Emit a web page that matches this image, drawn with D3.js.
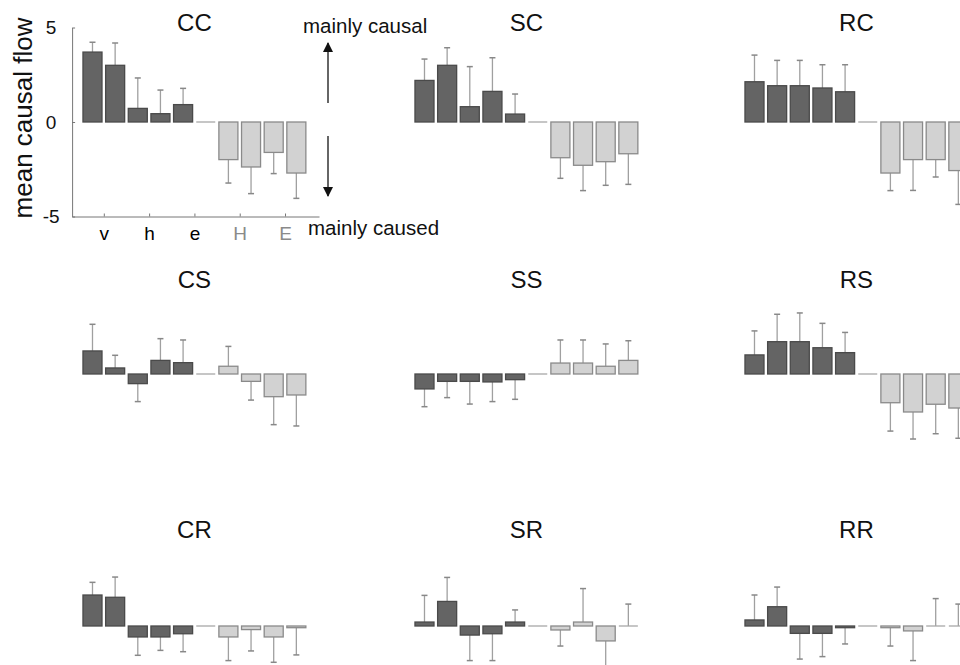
<!DOCTYPE html>
<html><head><meta charset="utf-8">
<script src="https://cdn.jsdelivr.net/npm/d3@7"></script>
<style>body{margin:0;background:#fff}svg{display:block;font-family:"Liberation Sans",Arial,Helvetica,sans-serif}</style>
</head><body>
<svg id="chart" width="960" height="665"></svg>
<script>
// ---- data ----
const panelNames = ["CC","SC","RC","CS","SS","RS","CR","SR","RR"];
const tickLabels = ["v","h","e","H","E"];
const tickColors = ["#000","#000","#000","#8a8a8a","#8a8a8a"];
const yTicks = [-5, 0, 5];
// means for bars 1..10 (bar 6 is the empty middle slot)
const meanCC = [3.70, 3.00, 0.72, 0.44, 0.92, 0, -1.99, -2.38, -1.61, -2.70];
const meanSC = [2.20, 3.00, 0.81, 1.62, 0.42, 0, -1.89, -2.29, -2.10, -1.68];
const meanRC = [2.13, 1.92, 1.92, 1.80, 1.60, 0, -2.70, -1.99, -1.99, -2.57];
const meanCS = [1.22, 0.32, -0.51, 0.72, 0.60, 0, 0.41, -0.39, -1.20, -1.11];
const meanSS = [-0.79, -0.39, -0.39, -0.42, -0.30, 0, 0.58, 0.58, 0.41, 0.72];
const meanRS = [1.01, 1.71, 1.71, 1.39, 1.13, 0, -1.52, -2.01, -1.60, -1.80];
const meanCR = [1.64, 1.52, -0.58, -0.58, -0.41, 0, -0.58, -0.19, -0.58, -0.09];
const meanSR = [0.21, 1.30, -0.48, -0.41, 0.21, 0, -0.21, 0.21, -0.79, 0];
const meanRR = [0.32, 1.02, -0.39, -0.39, -0.09, 0, -0.09, -0.26, 0, 0];
// signed error-bar lengths (tip = mean + err)
const errCC = [0.52, 1.18, 1.61, 1.25, 0.86, 0, -1.24, -1.41, -1.12, -1.34];
const errSC = [1.13, 0.93, 2.12, 1.78, 1.06, 0, -1.09, -1.34, -1.25, -1.62];
const errRC = [1.41, 1.34, 1.34, 1.23, 1.43, 0, -0.93, -1.63, -0.92, -1.79];
const errCS = [1.41, 0.67, -0.95, 1.15, 1.20, 0, 1.05, -0.99, -1.48, -1.64];
const errSS = [-0.94, -0.86, -1.20, -1.04, -1.04, 0, 1.22, 1.22, 1.18, 1.04];
const errRS = [1.27, 1.45, 1.52, 1.29, 1.07, 0, -1.50, -1.43, -1.56, -1.60];
const errCR = [0.67, 1.07, -0.97, -0.71, -0.95, 0, -1.25, -1.13, -1.34, -1.44];
const errSR = [1.41, 1.27, -1.35, -1.42, 0.64, 0, -0.85, 1.77, -1.41, 1.16];
const errRR = [1.32, 1.04, -1.36, -1.23, -0.86, 0, -0.97, -1.57, 1.45, 1.16];
const barGroup = ["dark","dark","dark","dark","dark","mid","light","light","light","light"];

const means = [meanCC, meanSC, meanRC, meanCS, meanSS, meanRS, meanCR, meanSR, meanRR];
const errs  = [errCC, errSC, errRC, errCS, errSS, errRS, errCR, errSR, errRR];

// ---- layout ----
const colX = [0, 332, 662];
const rowZero = [122, 374, 626];
const titleY = [30, 287, 537];
const halfSpan = 94.5;

const fills = {dark:"#646464", light:"#d2d2d2", mid:"#d2d2d2"};
const strokes = {dark:"#4a4a4a", light:"#8a8a8a", mid:"#aaaaaa"};

const svg = d3.select("#chart");

panelNames.forEach((name, p) => {
  const r = Math.floor(p / 3), c = p % 3;
  const x = d3.scaleLinear().domain([0.1, 11]).range([72.1 + colX[c], 319 + colX[c]]);
  const y = d3.scaleLinear().domain([-5, 5]).range([rowZero[r] + halfSpan, rowZero[r] - halfSpan]);
  const bw = (x(2) - x(1)) * 0.84;
  const g = svg.append("g");
  const data = means[p].map((m, i) => ({i: i + 1, m, e: errs[p][i], grp: barGroup[i]}));

  // error bars
  const eb = g.selectAll(".eb").data(data.filter(d => d.e !== 0)).join("g");
  eb.append("line")
    .attr("x1", d => x(d.i)).attr("x2", d => x(d.i))
    .attr("y1", d => y(d.m)).attr("y2", d => y(d.m + d.e))
    .attr("stroke", "#a0a0a0").attr("stroke-width", 1.3);
  eb.append("line")
    .attr("x1", d => x(d.i) - 3).attr("x2", d => x(d.i) + 3)
    .attr("y1", d => y(d.m + d.e)).attr("y2", d => y(d.m + d.e))
    .attr("stroke", "#888").attr("stroke-width", 1.5);

  // bars
  const nz = data.filter(d => Math.abs(d.m) > 0.001);
  g.selectAll(".bar").data(nz).join("rect")
    .attr("x", d => x(d.i) - bw / 2)
    .attr("width", bw)
    .attr("y", d => Math.min(y(d.m), y(0)))
    .attr("height", d => Math.abs(y(d.m) - y(0)))
    .attr("fill", d => fills[d.grp])
    .attr("stroke", d => strokes[d.grp])
    .attr("stroke-width", 1.3);
  // zero-height bars as lines
  g.selectAll(".zb").data(data.filter(d => Math.abs(d.m) <= 0.001)).join("line")
    .attr("x1", d => x(d.i) - bw / 2).attr("x2", d => x(d.i) + bw / 2)
    .attr("y1", y(0)).attr("y2", y(0))
    .attr("stroke", "#a8a8a8").attr("stroke-width", 1.3);

  // title
  svg.append("text").attr("x", x(5.5)).attr("y", titleY[r] + 1)
    .attr("text-anchor", "middle").attr("font-size", 24).attr("fill", "#111").text(name);

  if (p === 0) {
    const ya = svg.append("g").attr("transform", `translate(${x(0.1)},0)`)
      .call(d3.axisLeft(y).tickValues(yTicks).tickSizeInner(-3).tickSizeOuter(0).tickPadding(15).tickFormat(d3.format("d")));
    ya.select(".domain").attr("stroke", "#777");
    ya.selectAll(".tick line").attr("stroke", "#777");
    ya.selectAll("text").attr("font-size", 19).attr("font-family", "Liberation Sans, Arial, sans-serif")
      .attr("fill", "#111").attr("text-anchor", "middle").attr("x", -21).text(d => d < 0 ? "-" + Math.abs(d) : d);

    const xa = svg.append("g").attr("transform", `translate(0,${y(-5)})`)
      .call(d3.axisBottom(x).tickValues([1.5, 3.5, 5.5, 7.5, 9.5]).tickSizeInner(-3).tickSizeOuter(0).tickPadding(10)
        .tickFormat((d, k) => tickLabels[k]));
    xa.select(".domain").attr("stroke", "#777");
    xa.selectAll(".tick line").attr("stroke", "#777");
    xa.selectAll("text").attr("font-size", 19).attr("font-family", "Liberation Sans, Arial, sans-serif")
      .attr("fill", (d, k) => tickColors[k]);

    svg.append("text").attr("transform", `translate(32,${118}) rotate(-90)`)
      .attr("text-anchor", "middle").attr("font-size", 26).attr("fill", "#111").text("mean causal flow");
  }
});

// annotation arrows
const defs = svg.append("defs");
defs.append("marker").attr("id", "ah").attr("viewBox", "0 0 10 10").attr("refX", 9).attr("refY", 5)
  .attr("markerWidth", 5).attr("markerHeight", 5).attr("orient", "auto")
  .append("path").attr("d", "M0,0 L10,5 L0,10 z").attr("fill", "#111");
svg.append("line").attr("x1", 328).attr("x2", 328).attr("y1", 103).attr("y2", 43)
  .attr("stroke", "#666").attr("stroke-width", 2).attr("marker-end", "url(#ah)");
svg.append("line").attr("x1", 328).attr("x2", 328).attr("y1", 136).attr("y2", 196)
  .attr("stroke", "#666").attr("stroke-width", 2).attr("marker-end", "url(#ah)");
svg.append("text").attr("x", 303).attr("y", 33).attr("font-size", 20.5).attr("fill", "#111").text("mainly causal");
svg.append("text").attr("x", 308).attr("y", 235).attr("font-size", 20.5).attr("fill", "#111").text("mainly caused");
</script>
</body></html>
